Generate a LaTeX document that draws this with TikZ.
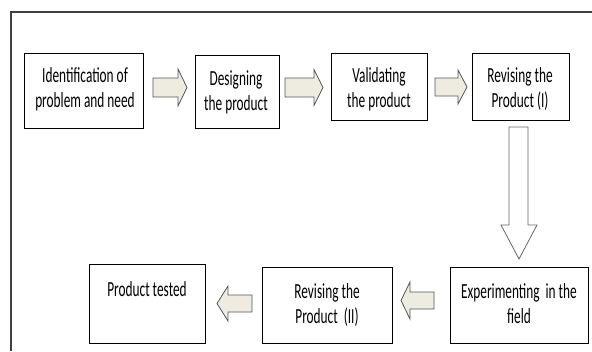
\documentclass[tikz,border=0pt]{standalone}
\usepackage{fontspec}
\setmainfont{Carlito}
\newfontfamily\boxfont[FakeStretch=0.62]{Carlito}
\definecolor{arrowfill}{HTML}{EEECE1}
\definecolor{arrowline}{HTML}{555555}
% horizontal block arrow: tail x, head-base x, tip x, centre y, shaft half-width, head half-width
\newcommand\HArrow[6]{%
  \draw[blockarrow] (#1,#4-#5) -- (#2,#4-#5) -- (#2,#4-#6) -- (#3,#4)
    -- (#2,#4+#6) -- (#2,#4+#5) -- (#1,#4+#5) -- cycle;}
\begin{document}
\begin{tikzpicture}[x=1pt,y=-1pt,
  stepbox/.style={draw=black, line width=0.9pt, fill=white, inner sep=0pt, outer sep=0pt, anchor=north west},
  steptext/.style={align=center, font=\boxfont\fontsize{21.5}{24.5}\selectfont, inner sep=0pt, anchor=base},
  blockarrow/.style={draw=arrowline, line width=0.8pt, fill=arrowfill, line join=miter},
  frameline/.style={draw=black!75, line width=1.6pt}]
\useasboundingbox (0,0) rectangle (592,351);
\fill[white] (0,0) rectangle (592,351);

% outer frame (top and left edges)
\draw[frameline] (11,351) -- (11,12) -- (592,12);

% process steps
\node[stepbox, minimum width=119pt, minimum height=75pt] (b1) at (24,53) {};
\node[stepbox, minimum width=84pt,  minimum height=73pt] (b2) at (195,55) {};
\node[stepbox, minimum width=96pt,  minimum height=67pt] (b3) at (331,53) {};
\node[stepbox, minimum width=97pt,  minimum height=67pt] (b4) at (472,53) {};
\node[stepbox, minimum width=138pt, minimum height=76pt] (b5) at (450,267) {};
\node[stepbox, minimum width=130pt, minimum height=76pt] (b6) at (262,267) {};
\node[stepbox, minimum width=116pt, minimum height=79pt] (b7) at (89,264) {};

% step labels (anchored at the baseline of their last line)
\node[steptext] (t1) at (85,107) {Identification of\\problem and need};
\node[steptext] (t2) at (236,110) {Designing\\the product};
\node[steptext] (t3) at (379,107) {Validating\\the product};
\node[steptext] (t4) at (520,107) {Revising the\\Product (I)};
\node[steptext] (t5) at (519,323) {Experimenting\ \ in the\\field};
\node[steptext] (t6) at (327,323) {Revising the\\Product\ \ (II)};
\node[steptext] (t7) at (147,296) {Product tested};

% block arrows between the steps
\HArrow{153}{178}{187}{87.5}{9.5}{18.5}
\HArrow{285}{314}{323}{87.5}{9.5}{18}
\HArrow{435}{458}{467}{87}{9}{17}
\draw[blockarrow, draw=black!60, fill=white]
  (509,127) -- (509,225) -- (501,225) -- (519,259) -- (537,225) -- (528,225) -- (528,127) -- cycle;
\HArrow{434}{410}{401}{300.5}{8.5}{18.5}
\HArrow{252}{228}{217}{303.5}{8.5}{17.5}
\end{tikzpicture}
\end{document}
